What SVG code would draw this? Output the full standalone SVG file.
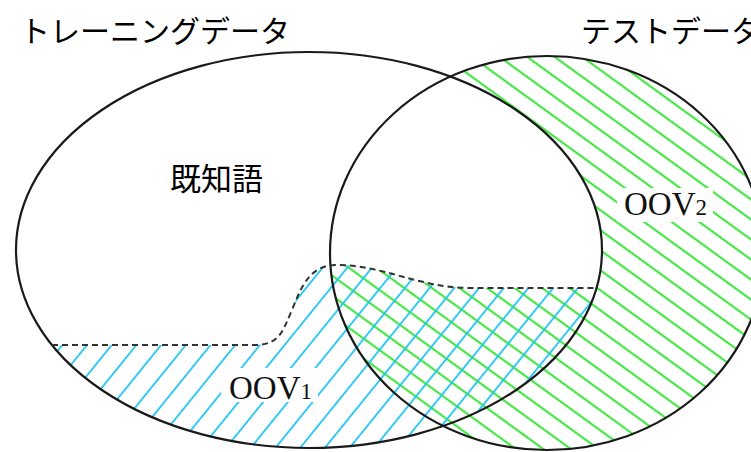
<svg xmlns="http://www.w3.org/2000/svg" width="751" height="452" viewBox="0 0 751 452">
  <style>
    .outline { fill: none; stroke: #1a1a1a; stroke-width: 2.2; }
    .dash { fill: none; stroke: #333333; stroke-width: 2; stroke-dasharray: 6 4; }
    .jp { font-family: "Noto Sans CJK JP", "Noto Sans", sans-serif; fill: #000; }
    .oov { font-family: "Liberation Serif", "DejaVu Serif", serif; fill: #111; font-size: 33px; }
    .sub { font-size: 23px; }
  </style>
  <defs>
    <pattern id="hatchBlue" patternUnits="userSpaceOnUse" width="19.2" height="900" patternTransform="translate(87,345) rotate(39) translate(-9.6,-450)">
      <line x1="9.6" y1="0" x2="9.6" y2="900" stroke="#22c6f4" stroke-width="1.8"/>
    </pattern>
    <pattern id="hatchGreen" patternUnits="userSpaceOnUse" width="16.2" height="900" patternTransform="translate(600,290) rotate(-54) translate(-8.1,-450)">
      <line x1="8.1" y1="0" x2="8.1" y2="900" stroke="#1ee01e" stroke-width="1.8"/>
    </pattern>
    <clipPath id="clipTrain">
      <ellipse cx="309" cy="250" rx="293" ry="198"/>
    </clipPath>
    <clipPath id="clipTest">
      <ellipse cx="547" cy="253" rx="217" ry="197"/>
    </clipPath>
  </defs>

  <rect x="0" y="0" width="751" height="452" fill="#ffffff"/>

  <g id="hatching">
    <ellipse cx="547" cy="253" rx="217" ry="197" fill="url(#hatchGreen)"/>
    <path clip-path="url(#clipTrain)" fill="#ffffff" d="M0,0 H751 V288 H470 C420,288 380,264 335,265 C310,266 302,285 292,310 C283,330 280,345 255,345 H0 Z"/>
    <path clip-path="url(#clipTrain)" fill="url(#hatchBlue)" d="M0,345 H255 C280,345 283,330 292,310 C302,285 310,266 335,265 C380,264 420,288 470,288 H751 V460 H0 Z"/>
  </g>

  <g id="training-set">
    <ellipse class="outline" cx="309" cy="250" rx="293" ry="198"/>
    <text class="jp" x="20" y="42" font-size="30">トレーニングデータ</text>
  </g>

  <g id="test-set">
    <ellipse class="outline" cx="547" cy="253" rx="217" ry="197"/>
    <text class="jp" x="581" y="42" font-size="30">テストデータ</text>
  </g>

  <g id="connectors">
    <path class="dash" d="M52,345 H255 C280,345 283,330 292,310 C302,285 310,266 335,265 C380,264 420,288 470,288 H596"/>
  </g>

  <g id="known-words">
    <text class="jp" x="170" y="190" font-size="31">既知語</text>
  </g>

  <g id="oov1">
    <rect x="221" y="368" width="97" height="34" fill="#ffffff"/>
    <text class="oov" x="229" y="399">OOV<tspan class="sub">1</tspan></text>
  </g>

  <g id="oov2">
    <rect x="617" y="188" width="96" height="34" fill="#ffffff"/>
    <text class="oov" x="624" y="215">OOV<tspan class="sub">2</tspan></text>
  </g>
</svg>
